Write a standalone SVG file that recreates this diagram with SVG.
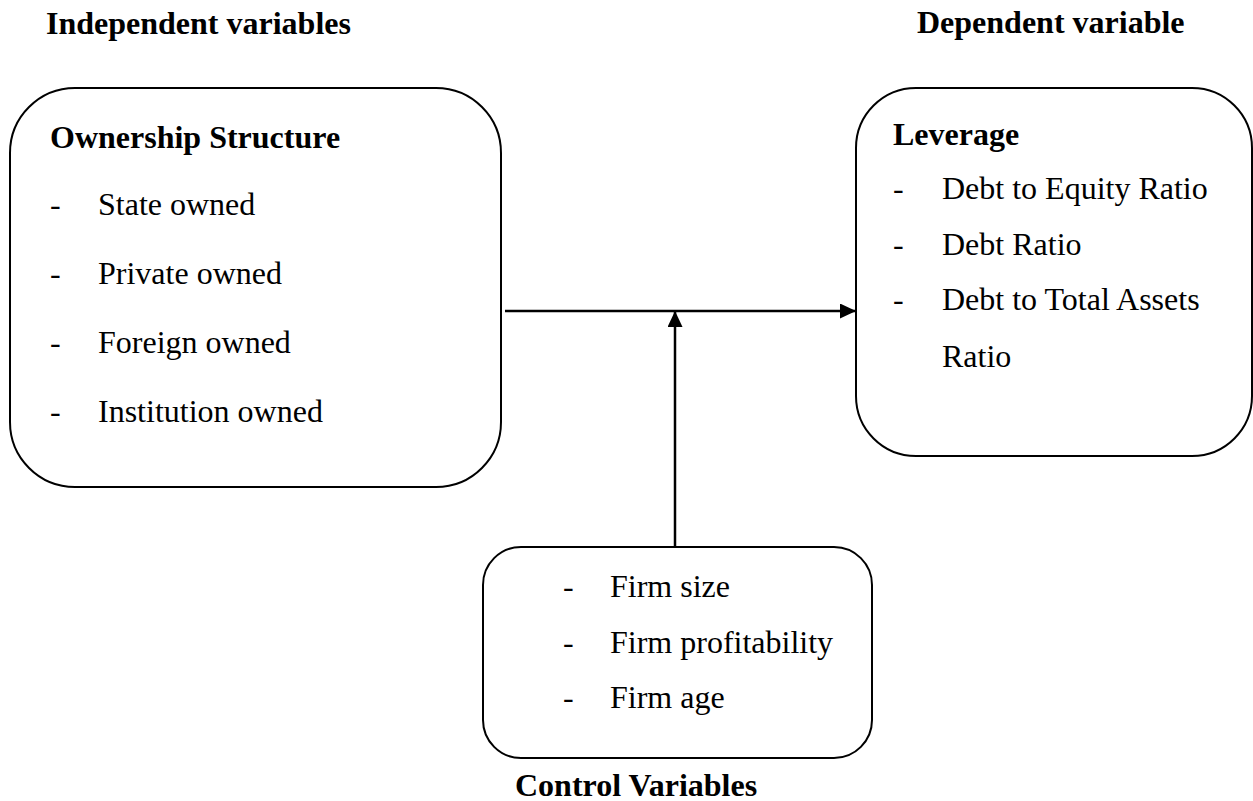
<svg xmlns="http://www.w3.org/2000/svg" width="1253" height="801" viewBox="0 0 1253 801">
<style>
.box{fill:#fff;stroke:#000;stroke-width:2}
.t{font-family:"Liberation Serif","Times New Roman",serif;font-size:32px;fill:#000}
.b{font-weight:bold}
.c{stroke:#000;stroke-width:2.5;fill:none}
</style>
<defs>
<marker id="ah" markerWidth="16" markerHeight="15" refX="16" refY="7.5" orient="auto" markerUnits="userSpaceOnUse">
<path d="M0,0 L16,7.5 L0,15 Z" fill="#000"/>
</marker>
</defs>
<rect width="1253" height="801" fill="#fff"/>
<text class="t b" x="46" y="34">Independent variables</text>
<text class="t b" x="917" y="33">Dependent variable</text>
<g id="ownership">
<rect class="box" x="10" y="88" width="491" height="399" rx="65" ry="65"/>
<text class="t b" x="50" y="148">Ownership Structure</text>
<text class="t" x="50" y="215">-</text><text class="t" x="98" y="215">State owned</text>
<text class="t" x="50" y="284">-</text><text class="t" x="98" y="284">Private owned</text>
<text class="t" x="50" y="353">-</text><text class="t" x="98" y="353">Foreign owned</text>
<text class="t" x="50" y="422">-</text><text class="t" x="98" y="422">Institution owned</text>
</g>
<g id="leverage">
<rect class="box" x="856" y="88" width="396" height="368" rx="60" ry="60"/>
<text class="t b" x="893" y="145">Leverage</text>
<text class="t" x="893" y="199">-</text><text class="t" x="942" y="199">Debt to Equity Ratio</text>
<text class="t" x="893" y="255">-</text><text class="t" x="942" y="255">Debt Ratio</text>
<text class="t" x="893" y="310">-</text><text class="t" x="942" y="310">Debt to Total Assets</text>
<text class="t" x="942" y="367">Ratio</text>
</g>
<g id="controls">
<rect class="box" x="483" y="547" width="389" height="211" rx="38" ry="38"/>
<text class="t" x="563" y="597">-</text><text class="t" x="610" y="597">Firm size</text>
<text class="t" x="563" y="653">-</text><text class="t" x="610" y="653">Firm profitability</text>
<text class="t" x="563" y="708">-</text><text class="t" x="610" y="708">Firm age</text>
<text class="t b" x="515" y="796">Control Variables</text>
</g>
<g id="connectors">
<line class="c" x1="505" y1="311" x2="856" y2="311" marker-end="url(#ah)"/>
<line class="c" x1="675" y1="547" x2="675" y2="311" marker-end="url(#ah)"/>
</g>
</svg>
